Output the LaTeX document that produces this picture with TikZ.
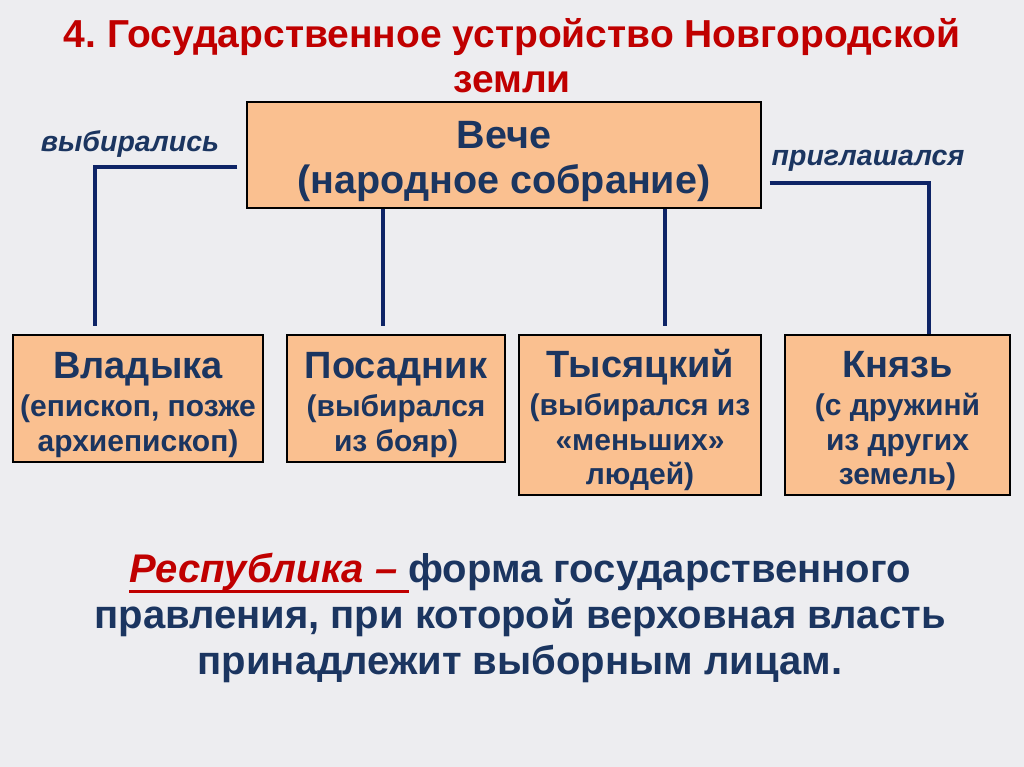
\documentclass[tikz,border=0pt]{standalone}
\usepackage{fontspec}
\setmainfont{Liberation Sans}
\usepackage{tikz}
\usetikzlibrary{positioning,
                calc}
\definecolor{slidegray}{HTML}{EDEDF0}
\definecolor{titlered}{HTML}{C00000}
\definecolor{boxpeach}{HTML}{FAC090}
\definecolor{textnavy}{HTML}{1B3560}
\definecolor{linenavy}{HTML}{0E2466}
\newcommand{\headsize}{\fontsize{38}{40}\selectfont\rule{0pt}{39pt}}
\newlength{\termwidth}
\newcommand{\underterm}[1]{\settowidth{\termwidth}{#1}%
\rlap{\rule[-10pt]{\termwidth}{3pt}}#1}
\frenchspacing

\begin{document}
\begin{tikzpicture}[x=1pt,y=-1pt]

\tikzset{
orgbox/.style={
draw=black,
line width=1.3pt,
fill=boxpeach,
align=center,
text=textnavy,
inner sep=0pt,
font=\bfseries\fontsize{30}{34.5}\selectfont
},
linklabel/.style={
text=textnavy,
font=\bfseries\itshape\fontsize{28.5}{32}\selectfont
},
link/.style={
draw=linenavy,
line width=4pt
}
}

\fill[slidegray] (0,0) rectangle (1024,767);
\useasboundingbox (0,0) rectangle (1024,767);

%--------------------------------------------------
% TITLE
%--------------------------------------------------

\node[font=\bfseries\fontsize{39}{45}\selectfont,text=titlered,align=center]
(title) at (512,56)
{4. Государственное устройство Новгородской\\земли};

%--------------------------------------------------
% VECHE
%--------------------------------------------------

\node[orgbox,minimum width=514pt,minimum height=106pt,
font=\bfseries\fontsize{39.5}{45}\selectfont]
(veche) at (504,155)
{\rule{0pt}{39.5pt}Вече\\(народное собрание)};

%--------------------------------------------------
% OFFICES
%--------------------------------------------------

\node[orgbox,minimum width=250pt,minimum height=127pt]
(vladyka) at (138,398.5)
{{\headsize Владыка}\\[3.5pt](епископ, позже\\архиепископ)};

\node[orgbox,minimum width=218pt,minimum height=127pt]
(posadnik) at (396,398.5)
{{\headsize Посадник}\\[3.5pt](выбирался\\из бояр)};

\node[orgbox,minimum width=242pt,minimum height=160pt]
(tysyatsky) at (640,415)
{{\headsize Тысяцкий}\\[3.5pt](выбирался из\\«меньших»\\людей)};

\node[orgbox,minimum width=225pt,minimum height=160pt]
(knyaz) at (897.5,415)
{{\headsize Князь}\\[3.5pt](с дружинй\\из других\\земель)};

%--------------------------------------------------
% LINKS
%--------------------------------------------------

\coordinate (elbowL) at (95,167);
\coordinate (elbowR) at (929,183);
\coordinate (tapP) at (383,0);
\coordinate (tapT) at (665,0);

\draw[link] ([xshift=-9pt]veche.west |- elbowL) -- (elbowL)
-- ([yshift=8pt]vladyka.north -| elbowL);
\draw[link] (veche.south -| tapP) -- ([yshift=8pt]posadnik.north -| tapP);
\draw[link] (veche.south -| tapT) -- ([yshift=8pt]tysyatsky.north -| tapT);
\draw[link] ([xshift=8pt]veche.east |- elbowR) -- (elbowR)
-- (knyaz.north -| elbowR);

\node[linklabel] (chosenlabel) at (130,144) {выбирались};
\node[linklabel] (invitedlabel) at (868,161) {приглашался};

%--------------------------------------------------
% DEFINITION
%--------------------------------------------------

\node[font=\bfseries\fontsize{40}{46}\selectfont,text=textnavy,align=center]
(definition) at (520,618)
{\textcolor{titlered}{\itshape\underterm{Республика –\ }}форма государственного\\
правления, при которой верховная власть\\
принадлежит выборным лицам.};

\end{tikzpicture}
\end{document}
